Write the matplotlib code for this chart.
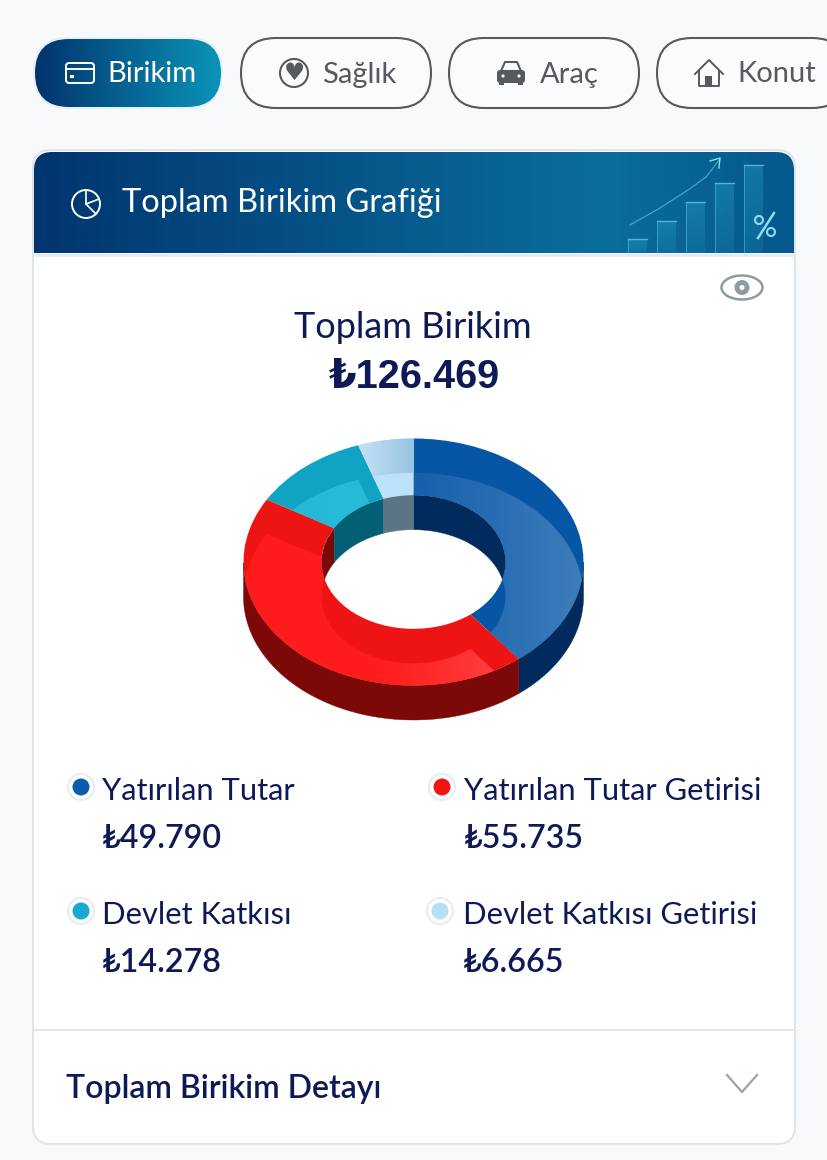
import numpy as np
import matplotlib
matplotlib.use('Agg')
import matplotlib.pyplot as plt
from matplotlib.colors import to_rgb
from matplotlib.patches import FancyBboxPatch, Circle, Rectangle, Polygon, Ellipse
from matplotlib.path import Path
from matplotlib.patches import PathPatch

# Data
labels = ['Yatırılan Tutar', 'Yatırılan Tutar Getirisi', 'Devlet Katkısı', 'Devlet Katkısı Getirisi']
values = [49790, 55735, 14278, 6665]
value_texts = ['₺49.790', '₺55.735', '₺14.278', '₺6.665']
total_text = '₺126.469'
tabs = ['Birikim', 'Sağlık', 'Araç', 'Konut']

top_colors = ['#0656A5', '#EE1414', '#10A3C3', '#B4DAF3']
light_left = ['#1560AC', '#FF1C1C', '#24B8D6', '#BCE2FB']
light_right = ['#3D7DBA', '#FF3E3E', '#2AC0DC', '#BCE2FB']
wall_colors = ['#012B5C', '#7C0808', '#035F74', '#5C7584']
dot_colors = ['#0B5CAD', '#F01414', '#17A9CF', '#B4E0F8']

NAVY = '#0E1A55'
GREY = '#555A60'
FONT = ['Lato', 'DejaVu Sans']
BOLD = ['Liberation Sans', 'DejaVu Sans']

fig = plt.figure(figsize=(8.28, 11.6), dpi=100, facecolor='#F8F9FB')
ax = fig.add_axes([0, 0, 1, 1])
ax.set_xlim(0, 828)
ax.set_ylim(1160, 0)
ax.axis('off')


def gradient(x0, y0, x1, y1, stops, colors, clip):
    t = np.linspace(0, 1, 256)
    img = np.dstack([np.interp(t, stops, [to_rgb(c)[k] for c in colors])[None, :] for k in range(3)])
    im = ax.imshow(img, extent=(x0, x1, y1, y0), aspect='auto', zorder=2)
    im.set_clip_path(clip)


def rounded(x, y, w, h, r, **kw):
    return FancyBboxPatch((x + r, y + r), w - 2 * r, h - 2 * r,
                          boxstyle=f'round,pad={r},rounding_size={r}', **kw)


# Tabs
tab_x = [33, 241, 449, 657]
tab_text_x = [107, 322, 540, 737]
for i, name in enumerate(tabs):
    if i == 0:
        ax.add_patch(rounded(33, 37, 190, 72, 36, fc='#E4F1F8', ec='none', zorder=1))
        p = rounded(35, 39, 186, 68, 34, fc='none', ec='none', zorder=2)
        ax.add_patch(p)
        gradient(35, 39, 221, 107, [0, 1], ['#02336E', '#0B94B8'], p)
        ax.text(tab_text_x[i], 74.5, name, color='white', fontsize=21, family=FONT, va='center', zorder=4)
    else:
        ax.add_patch(rounded(tab_x[i], 38, 190, 70, 35, fc='#FAFBFC', ec=GREY, lw=1.5, zorder=2))
        ax.text(tab_text_x[i], 74.5, name, color=GREY, fontsize=21, family=FONT, va='center', zorder=4)

# Tab icons
ax.add_patch(rounded(66, 63, 28, 20, 3, fc='none', ec='white', lw=1.4, zorder=4))
ax.plot([66, 94], [69, 69], color='white', lw=1.4, zorder=4)
ax.add_patch(Rectangle((70, 75), 4, 3, fc='white', zorder=4))
ax.add_patch(Circle((294, 73), 14, fc='none', ec=GREY, lw=1.5, zorder=4))
ax.text(294, 73.5, '♥', color=GREY, fontsize=17, ha='center', va='center', family='DejaVu Sans', zorder=4)
ax.add_patch(rounded(497, 70, 28, 13, 3, fc=GREY, ec='none', zorder=4))
ax.add_patch(Polygon([(501, 71), (505, 62), (517, 62), (521, 71)], fc='#FAFBFC', ec=GREY, lw=1.5, zorder=4))
ax.add_patch(Rectangle((499, 82), 5, 3, fc=GREY, zorder=4))
ax.add_patch(Rectangle((518, 82), 5, 3, fc=GREY, zorder=4))
ax.add_patch(Circle((503, 76), 1.6, fc='#FAFBFC', zorder=5))
ax.add_patch(Circle((519, 76), 1.6, fc='#FAFBFC', zorder=5))
ax.plot([695, 709, 723], [74, 60, 74], color=GREY, lw=1.4, zorder=4)
ax.plot([699, 699, 719, 719], [71, 86, 86, 71], color=GREY, lw=1.4, zorder=4)
ax.add_patch(Rectangle((705, 76), 7, 10, fc=GREY, zorder=4))

# Card
ax.add_patch(rounded(33, 150, 762, 994, 18, fc='white', ec='#DFE4EA', lw=1.4, zorder=1))
header_verts = [(34, 253), (34, 170), (34, 152), (52, 152), (776, 152), (794, 152), (794, 170), (794, 253), (34, 253)]
header_codes = [Path.MOVETO, Path.LINETO, Path.CURVE3, Path.CURVE3, Path.LINETO, Path.CURVE3, Path.CURVE3, Path.LINETO, Path.CLOSEPOLY]
header = PathPatch(Path(header_verts, header_codes), fc='none', ec='none', zorder=2)
ax.add_patch(header)
gradient(34, 152, 794, 253, [0, 0.75, 1], ['#013570', '#0A6E9C', '#05588C'], header)
ax.plot([34, 794], [254.5, 254.5], color='#E0EBF3', lw=2, zorder=3)
ax.plot([34, 794], [1030, 1030], color='#E3E7EB', lw=1.4, zorder=3)

# Decoration in the header, bars fade towards the bottom
deco_x = [628, 657, 686, 715, 744]
deco_top = [239, 221, 202, 183, 165]
for bx, by in zip(deco_x, deco_top):
    fade = np.zeros((64, 1, 4))
    fade[..., :3] = to_rgb('#35B4DC')
    fade[..., 3] = np.linspace(0.30, 0.12, 64)[:, None]
    ax.imshow(fade, extent=(bx, bx + 19, 253, by), aspect='auto', zorder=3)
    ax.plot([bx, bx + 19], [by, by], color='#5CC8E8', lw=1, alpha=0.8, zorder=4)
    ax.plot([bx, bx], [by, 253], color='#5CC8E8', lw=0.7, alpha=0.5, zorder=4)
ax.plot([630, 660, 688, 706, 720], [225, 208, 190, 177, 159], color='#4FB4D8', lw=0.9, alpha=0.8, zorder=4)
ax.plot([710, 720, 719], [161, 158, 168], color='#8FD8F0', lw=1, zorder=4)
ax.plot([758, 774], [238, 213], color='#8FDCF2', lw=1.8, zorder=5)
ax.add_patch(Circle((759, 220), 4, fc='none', ec='#8FDCF2', lw=1.5, zorder=5))
ax.add_patch(Circle((771, 232), 4, fc='none', ec='#8FDCF2', lw=1.5, zorder=5))

# Header title
ax.add_patch(Ellipse((86, 204), 28, 28, fc='none', ec='white', lw=1.4, zorder=4))
ax.plot([86, 86, 96], [190, 204, 214], color='white', lw=1.2, zorder=4)
ax.plot([86, 99], [204, 199], color='white', lw=1.2, zorder=4)
ax.text(122, 203, 'Toplam Birikim Grafiği', color='white', fontsize=23.5, family=FONT, va='center', zorder=4)

# Eye icon
ax.add_patch(Ellipse((742, 287.5), 41, 24, fc='none', ec='#8E9BA5', lw=1.8, zorder=4))
ax.add_patch(Circle((742, 287.5), 7.5, fc='#8E9BA5', zorder=4))
ax.add_patch(Circle((742, 287.5), 2.5, fc='white', zorder=5))

# Totals
ax.text(413, 328, 'Toplam Birikim', color=NAVY, fontsize=26, family=FONT, ha='center', va='center', zorder=4)
ax.text(414, 377, total_text, color=NAVY, fontsize=28.5, family=BOLD, fontweight='bold', ha='center', va='center', zorder=4)

# Donut, one data unit is the outer radius in both directions
rx, ry = 170.0, 123.5
cx, cy = 413.5, 562.0
depth = 34.5 / ry
inner = 92.0 / rx
xlim = (-1.05, 1.05)
ylim = (-1.40, 1.05)
pax = fig.add_axes([(cx + xlim[0] * rx) / 828, 1 - (cy - ylim[0] * ry) / 1160,
                    (xlim[1] - xlim[0]) * rx / 828, (ylim[1] - ylim[0]) * ry / 1160])
wedges, _ = pax.pie(values, colors=top_colors, startangle=90, counterclock=False, radius=1,
                    wedgeprops=dict(width=1 - inner, linewidth=0))
pax.set_aspect('auto')
pax.set_xlim(xlim)
pax.set_ylim(ylim)
pax.patch.set_alpha(0)
for w in wedges:
    w.set_zorder(3)

# Outer wall
for w, c in zip(wedges, wall_colors):
    t = np.radians(np.linspace(w.theta1, w.theta2, 300))
    t = t[np.sin(t) <= 0]
    if len(t) == 0:
        continue
    xy = np.r_[np.c_[np.cos(t), np.sin(t)], np.c_[np.cos(t), np.sin(t) - depth][::-1]]
    pax.add_patch(Polygon(xy, fc=c, ec=c, lw=0.3, zorder=2))

# Inner wall seen through the hole
hole = Circle((0, 0), inner, fc='none', ec='none', zorder=1)
pax.add_patch(hole)
for w, c in zip(wedges, wall_colors):
    t = np.radians(np.linspace(w.theta1, w.theta2, 300))
    t = t[np.sin(t) >= 0]
    if len(t) == 0:
        continue
    xs, ys = inner * np.cos(t), inner * np.sin(t)
    xy = np.r_[np.c_[xs, ys], np.c_[xs, ys - depth][::-1]]
    p = Polygon(xy, fc=c, ec=c, lw=0.3, zorder=4)
    pax.add_patch(p)
    p.set_clip_path(hole)

# The palest slice gets darker to the right on its top face
shade = np.linspace(0, 1, 64)[None, :, None]
pale = (1 - shade) * np.array(to_rgb('#C6E3F7')) + shade * np.array(to_rgb('#98C3E0'))
im = pax.imshow(pale, extent=(-0.34, 0.0, ylim[0], ylim[1]), aspect='auto', zorder=3.2)
im.set_clip_path(wedges[3])

# Lighter layer: the same slice moved down by the depth, kept inside its own slice
nx, ny = 1500, 1500
gx = np.linspace(xlim[0], xlim[1], nx)
gy = np.linspace(ylim[0], ylim[1], ny)
X, Y = np.meshgrid(gx, gy)
R = np.hypot(X, Y + depth)
A = np.degrees(np.arctan2(Y + depth, X))
for i, w in enumerate(wedges):
    inside = ((A - w.theta1) % 360 <= (w.theta2 - w.theta1)) & (R >= inner) & (R <= 1)
    s = np.clip((X + 1) / 2, 0, 1)[..., None]
    if i == 0:
        s = np.clip((X - 0.0), 0, 1)[..., None]
    if i == 1:
        s = np.clip((X + 0.2) / 0.7, 0, 1)[..., None]
    rgb = (1 - s) * np.array(to_rgb(light_left[i])) + s * np.array(to_rgb(light_right[i]))
    img = np.dstack([rgb, inside.astype(float)])
    im = pax.imshow(img, extent=(xlim[0], xlim[1], ylim[0], ylim[1]), origin='lower',
                    aspect='auto', zorder=3.5)
    im.set_clip_path(w)
pax.set_xlim(xlim)
pax.set_ylim(ylim)

# Legend
legend_pos = [(81, 787, 102, 791, 102, 839), (442, 787, 464, 791, 464, 839),
              (81, 911, 102, 915, 102, 963), (440, 911, 463, 915, 463, 963)]
for i, (dx, dy, tx, ty, vx, vy) in enumerate(legend_pos):
    ax.add_patch(Circle((dx, dy), 13, fc='white', ec='#E7ECEF', lw=1.4, zorder=3))
    ax.add_patch(Circle((dx, dy), 8.5, fc=dot_colors[i], zorder=4))
    ax.text(tx, ty, labels[i], color=NAVY, fontsize=22.2, family=FONT, va='center', zorder=4)
    ax.text(vx, vy, value_texts[i], color=NAVY, fontsize=23.2, family=FONT, fontweight='semibold', va='center', zorder=4)

# Footer
ax.text(66, 1089, 'Toplam Birikim Detayı', color=NAVY, fontsize=23, family=FONT, fontweight='semibold', va='center', zorder=4)
ax.plot([727, 742, 757], [1075, 1092, 1075], color='#9AA3AC', lw=1.6, zorder=4)

ax.set_xlim(0, 828)
ax.set_ylim(1160, 0)
fig.savefig('out.png', dpi=100, facecolor=fig.get_facecolor())
